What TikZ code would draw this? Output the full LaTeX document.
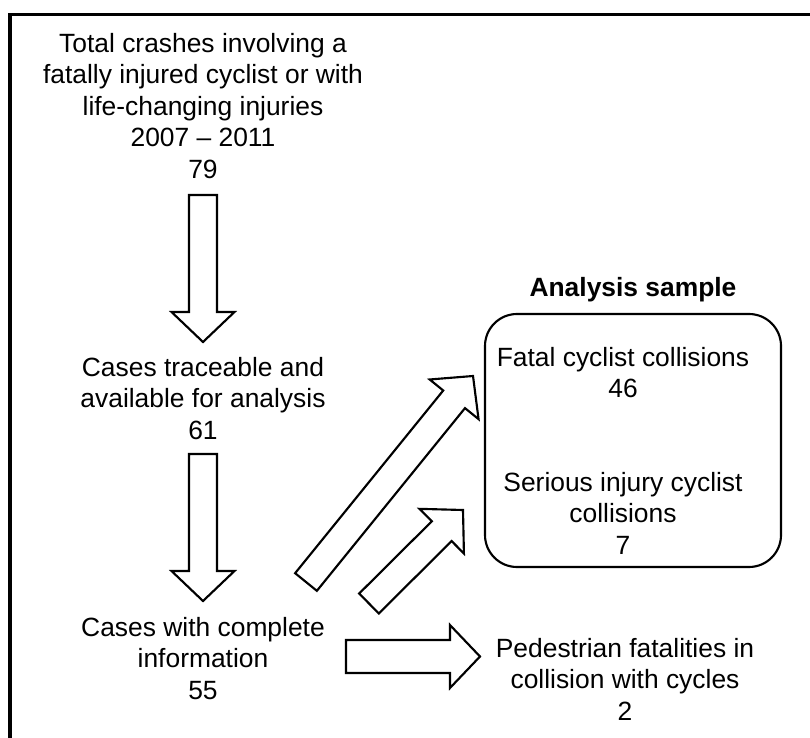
\documentclass[tikz,border=0pt]{standalone}
\usepackage{fontspec}
\setmainfont{Liberation Sans}
\usepackage{tikz}
\usetikzlibrary{calc}

% 白抜きの太い矢印 (本体の半幅, 始点, 終点)
\newcommand{\blockarrow}[3][10.5pt]{%
  \coordinate (hb) at ($(#3)!22.5pt!(#2)$);
  \draw[hollow] ($(#2)!#1!90:(#3)$) -- ($(hb)!#1!90:(#3)$)
    -- ($(hb)!23.6pt!90:(#3)$) -- (#3) -- ($(hb)!23.6pt!-90:(#3)$)
    -- ($(hb)!#1!-90:(#3)$) -- ($(#2)!#1!-90:(#3)$) -- cycle;
}

\begin{document}
\begin{tikzpicture}[x=0.75pt, y=-0.75pt,
  every node/.style={font=\fontsize{19.8}{23.6}\selectfont, align=center, inner sep=0pt, anchor=north},
  hollow/.style={draw, fill=white, line width=1.6pt},
  frame/.style={line width=2.3pt}]
\useasboundingbox (0,0) rectangle (810,738);

% 外枠
\draw[frame] (10,738) -- (10,14.5) -- (810,14.5);

% 左の流れ
\node (total) at (203,33) {Total crashes involving a\\fatally injured cyclist or with\\life-changing injuries\\2007 – 2011\\79};
\node (traceable) at (203,357) {Cases traceable and\\available for analysis\\61};
\node (complete) at (203,617) {Cases with complete\\information\\55};

% 右側
\node[font=\fontsize{19.8}{23.6}\selectfont\bfseries] (title) at (633,277) {Analysis sample};
\node[draw, line width=1.6pt, rounded corners=24pt, anchor=center,
      minimum width=222pt, minimum height=189.75pt] (sample) at (633,440.5) {};
\node (fatal) at (623,347) {Fatal cyclist collisions\\46};
\node (serious) at (623,472) {Serious injury cyclist\\collisions\\7};
\node (pedestrian) at (625,638) {Pedestrian fatalities in\\collision with cycles\\2};

% 矢印
\coordinate (a1s) at (203,195);  \coordinate (a1e) at (203,342);
\coordinate (a2s) at (203,454);  \coordinate (a2e) at (203,601);
\coordinate (a3s) at (306,582);  \coordinate (a3e) at (473,376);
\coordinate (a4s) at (369,603.5); \coordinate (a4e) at (463,510);
\coordinate (a5s) at (346,656.5); \coordinate (a5e) at (480,656.5);
\blockarrow{a1s}{a1e}
\blockarrow{a2s}{a2e}
\blockarrow{a3s}{a3e}
\blockarrow{a4s}{a4e}
\blockarrow[12.4pt]{a5s}{a5e}
\end{tikzpicture}
\end{document}
